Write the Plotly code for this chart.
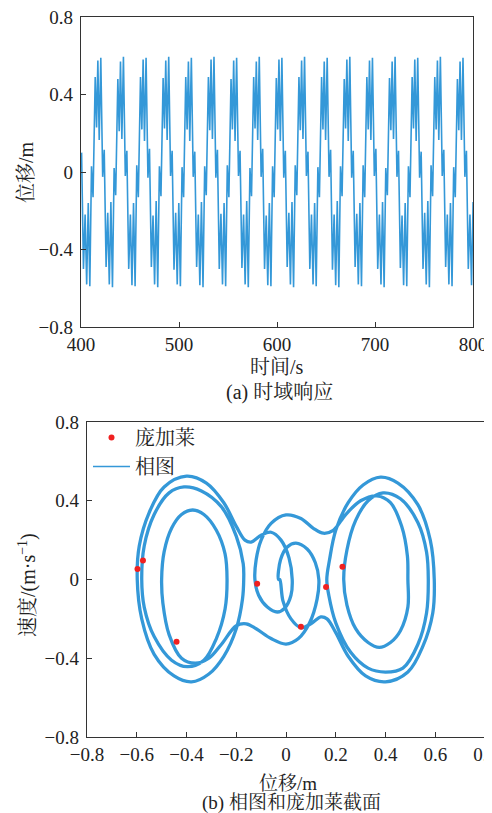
import plotly.graph_objects as go

# ---------------- data ----------------
# (a) time response: extrema of displacement (m), one row per forcing cycle
cycle_period = 23.1          # s
t_first = 400.6              # s, time of first extremum
phase_offsets = [0, 1.9, 3.6, 5.2, 6.8, 8.4, 10.1, 11.7, 13.9, 15.3, 16.6, 18.0, 19.6, 21.5]
disp_cycles = [
    [0.10, -0.50, -0.22, -0.58, -0.16, -0.59, 0.03, -0.13, 0.49, 0.23, 0.575, 0.165, 0.59, -0.025],
    [0.115, -0.49, -0.21, -0.58, -0.155, -0.595, 0.02, -0.12, 0.48, 0.21, 0.57, 0.17, 0.595, -0.02],
    [0.11, -0.50, -0.22, -0.585, -0.16, -0.59, 0.035, -0.13, 0.49, 0.22, 0.58, 0.16, 0.59, -0.03],
    [0.12, -0.49, -0.225, -0.58, -0.15, -0.595, 0.03, -0.125, 0.485, 0.225, 0.575, 0.165, 0.595, -0.02],
    [0.11, -0.505, -0.21, -0.58, -0.16, -0.59, 0.025, -0.13, 0.49, 0.22, 0.57, 0.16, 0.59, -0.025],
    [0.105, -0.49, -0.22, -0.585, -0.155, -0.595, 0.03, -0.12, 0.49, 0.215, 0.58, 0.17, 0.595, -0.03],
    [0.115, -0.50, -0.215, -0.58, -0.16, -0.59, 0.035, -0.13, 0.48, 0.22, 0.575, 0.16, 0.59, -0.02],
    [0.11, -0.495, -0.22, -0.58, -0.15, -0.595, 0.02, -0.125, 0.49, 0.225, 0.57, 0.165, 0.595, -0.025],
    [0.12, -0.50, -0.225, -0.585, -0.16, -0.59, 0.03, -0.13, 0.485, 0.22, 0.58, 0.16, 0.59, -0.03],
    [0.11, -0.49, -0.21, -0.58, -0.155, -0.595, 0.035, -0.12, 0.49, 0.215, 0.575, 0.17, 0.595, -0.02],
    [0.105, -0.50, -0.22, -0.58, -0.16, -0.59, 0.025, -0.13, 0.49, 0.22, 0.57, 0.165, 0.59, -0.025],
    [0.115, -0.505, -0.22, -0.585, -0.15, -0.595, 0.03, -0.125, 0.48, 0.225, 0.58, 0.16, 0.595, -0.03],
    [0.11, -0.49, -0.215, -0.58, -0.16, -0.59, 0.035, -0.13, 0.49, 0.22, 0.575, 0.165, 0.59, -0.02],
    [0.12, -0.50, -0.22, -0.58, -0.155, -0.595, 0.02, -0.12, 0.485, 0.215, 0.57, 0.17, 0.595, -0.025],
    [0.11, -0.495, -0.225, -0.585, -0.16, -0.59, 0.03, -0.13, 0.49, 0.225, 0.58, 0.16, 0.59, -0.03],
    [0.105, -0.50, -0.21, -0.58, -0.15, -0.595, 0.035, -0.125, 0.49, 0.22, 0.575, 0.165, 0.595, -0.02],
    [0.115, -0.49, -0.22, -0.58, -0.16, -0.59, 0.025, -0.13, 0.48, 0.215, 0.57, 0.165, 0.59, -0.025],
    [0.11, -0.50, -0.22, -0.585, -0.155],
]

# (b) phase portrait: one cycle of the trajectory (displacement m, velocity m/s)
phase_x = [
    -0.03, -0.022, 0.005, 0.04, 0.085, 0.118, 0.132,
    0.125, 0.095, 0.05, 0.0, -0.06, -0.12, -0.16, -0.20, -0.26, -0.31, -0.365, -0.42, -0.47, -0.495, -0.50,
    -0.49, -0.46, -0.42, -0.375, -0.33, -0.28, -0.245, -0.237,
    -0.245, -0.28, -0.33, -0.397, -0.46, -0.53, -0.57, -0.58,
    -0.57, -0.53, -0.47, -0.41, -0.34, -0.26, -0.20, -0.172, -0.17,
    -0.175, -0.20, -0.25, -0.31, -0.38, -0.45, -0.53, -0.58, -0.598,
    -0.59, -0.55, -0.49, -0.40, -0.32, -0.25, -0.20, -0.165, -0.14, -0.10, -0.06, -0.02, 0.012, 0.025,
    0.02, -0.005, -0.035, -0.075, -0.11, -0.125,
    -0.12, -0.10, -0.06, 0.0, 0.06, 0.11, 0.15, 0.19, 0.24, 0.30, 0.365, 0.42, 0.465, 0.488, 0.49,
    0.49, 0.46, 0.42, 0.375, 0.33, 0.28, 0.245, 0.232,
    0.245, 0.28, 0.33, 0.39, 0.46, 0.53, 0.565, 0.572,
    0.565, 0.53, 0.47, 0.40, 0.33, 0.26, 0.20, 0.172, 0.164,
    0.175, 0.20, 0.25, 0.31, 0.38, 0.45, 0.53, 0.58, 0.596,
    0.59, 0.55, 0.49, 0.40, 0.32, 0.25, 0.20, 0.165, 0.14, 0.10, 0.06, 0.02, -0.012, -0.025, -0.03,
]
phase_v = [
    0.0, 0.10, 0.165, 0.185, 0.155, 0.085, 0.0,
    -0.10, -0.22, -0.30, -0.328, -0.30, -0.25, -0.225, -0.235, -0.33, -0.40, -0.425, -0.40, -0.28, -0.12, 0.0,
    0.14, 0.26, 0.33, 0.353, 0.33, 0.25, 0.13, 0.0,
    -0.15, -0.30, -0.41, -0.443, -0.41, -0.29, -0.14, 0.0,
    0.17, 0.33, 0.44, 0.47, 0.45, 0.37, 0.22, 0.08, 0.0,
    -0.10, -0.25, -0.39, -0.48, -0.52, -0.49, -0.38, -0.20, 0.0,
    0.17, 0.34, 0.47, 0.525, 0.49, 0.39, 0.27, 0.20, 0.19, 0.225, 0.24, 0.20, 0.11, 0.0,
    -0.08, -0.145, -0.165, -0.14, -0.08, 0.0,
    0.10, 0.20, 0.285, 0.328, 0.31, 0.26, 0.235, 0.25, 0.33, 0.40, 0.425, 0.39, 0.27, 0.12, 0.0,
    -0.14, -0.26, -0.32, -0.345, -0.32, -0.25, -0.13, 0.0,
    0.15, 0.30, 0.40, 0.44, 0.41, 0.29, 0.14, 0.0,
    -0.17, -0.33, -0.45, -0.47, -0.45, -0.37, -0.22, -0.08, 0.0,
    0.10, 0.25, 0.39, 0.48, 0.52, 0.49, 0.38, 0.20, 0.0,
    -0.17, -0.34, -0.47, -0.52, -0.49, -0.39, -0.27, -0.20, -0.19, -0.225, -0.245, -0.20, -0.11, 0.0, 0.0,
]

# Poincare section points
poincare_x = [-0.597, -0.575, -0.44, -0.116, 0.06, 0.161, 0.227]
poincare_v = [0.053, 0.097, -0.316, -0.021, -0.24, -0.038, 0.065]

# ---------------- build ----------------
time_s, disp_m = [], []
for k, row in enumerate(disp_cycles):
    for off, val in zip(phase_offsets, row):
        time_s.append(t_first + k * cycle_period + off)
        disp_m.append(val)

BLUE = "#3498d8"
RED = "#f02020"
FONT = "Liberation Serif, Times New Roman, Noto Serif CJK SC, Noto Sans CJK SC, serif"
OFF = 8                      # page body margin of the browser
W, H = 492 - OFF, 813 - OFF

fig = go.Figure()
fig.add_trace(go.Scatter(x=time_s, y=disp_m, mode="lines", line=dict(color=BLUE, width=1.6),
                         xaxis="x", yaxis="y", showlegend=False))
fig.add_trace(go.Scatter(x=phase_x, y=phase_v, mode="lines", name="相图",
                         line=dict(color=BLUE, width=3.3, shape="spline", smoothing=1.0),
                         xaxis="x2", yaxis="y2", showlegend=False))
# legend entry for the phase portrait (thin line like the reference legend)
fig.add_trace(go.Scatter(x=[None], y=[None], mode="lines", name="相图",
                         line=dict(color=BLUE, width=1.4),
                         xaxis="x2", yaxis="y2", legendrank=2))
fig.add_trace(go.Scatter(x=poincare_x, y=poincare_v, mode="markers", name="庞加莱",
                         marker=dict(color=RED, size=6),
                         xaxis="x2", yaxis="y2", legendrank=1))

def px_x(p):
    return (p - OFF) / W

def px_y(p):
    return 1 - (p - OFF) / H

axis_common = dict(showgrid=False, zeroline=False, showline=True, mirror=True, automargin=False,
                   linecolor="#333333", linewidth=1.3, ticks="inside", ticklen=5,
                   tickcolor="#333333", ticklabeloverflow="allow",
                   tickfont=dict(family=FONT, size=19, color="#222"))

fig.update_layout(
    width=W, height=H, margin=dict(l=0, r=0, t=0, b=0, autoexpand=False),
    paper_bgcolor="white", plot_bgcolor="white",
    font=dict(family=FONT, size=20, color="#222"),
    xaxis=dict(domain=[px_x(81), px_x(473)], anchor="y", range=[400, 800], dtick=100, **axis_common),
    yaxis=dict(domain=[px_y(327), px_y(17)], anchor="x", range=[-0.8, 0.8], dtick=0.4,
               ticklabelstandoff=3, **axis_common),
    xaxis2=dict(domain=[px_x(87), px_x(485)], anchor="y2", range=[-0.8, 0.8], dtick=0.2, **axis_common),
    yaxis2=dict(domain=[px_y(737), px_y(422)], anchor="x2", range=[-0.8, 0.8], dtick=0.4,
                ticklabelstandoff=3, **axis_common),
    legend=dict(x=px_x(88), y=px_y(418), xanchor="left", yanchor="top", bgcolor="rgba(0,0,0,0)",
                font=dict(family=FONT, size=20, color="#222"), itemwidth=37, tracegroupgap=0),
)

annots = [
    ("时间/s", 277, 367, 0, 20),
    ("(a) 时域响应", 279, 392, 0, 20),
    ("位移/m", 26, 172, -90, 20),
    ("位移/m", 288, 783, 0, 19),
    ("(b) 相图和庞加莱截面", 291, 803, 0, 19),
    ("速度/(m·s<sup>−1</sup>)", 27, 585, -90, 20),
]
for text, ax_, ay_, ang, fs in annots:
    fig.add_annotation(text=text, x=px_x(ax_), y=px_y(ay_), xref="paper", yref="paper",
                       showarrow=False, textangle=ang, xanchor="center", yanchor="middle",
                       font=dict(family=FONT, size=fs, color="#222"))

fig.write_html("out.html")
